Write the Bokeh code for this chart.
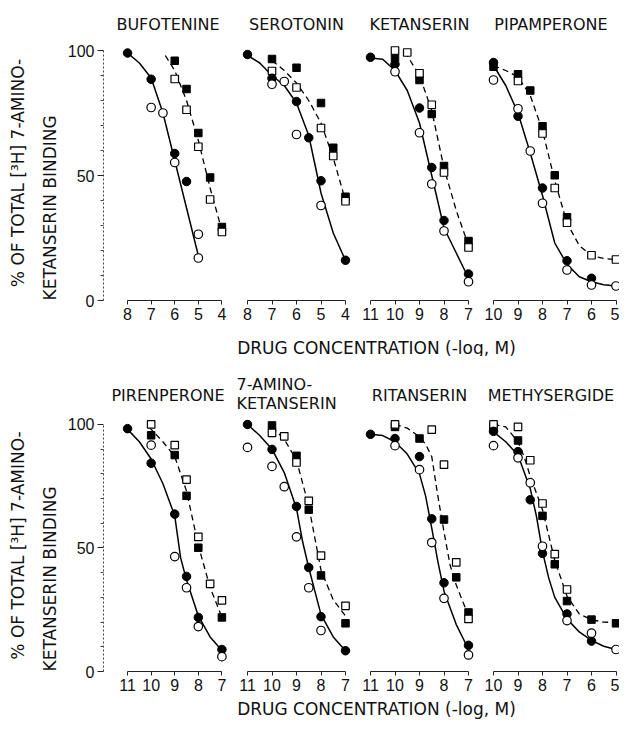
from bokeh.plotting import figure
from bokeh.models import Range1d, FixedTicker, Label, Title
from bokeh.layouts import column, row
from bokeh.embed import file_html
from bokeh.resources import INLINE

# ------------------------------------------------------------------ data
# x = drug concentration (-log M), y = % of total [3H]7-amino-ketanserin binding
# FC filled circles, OC open circles, FS filled squares, OS open squares
# FIT = solid curve (circles), DFIT = dashed curve (squares)

BUF_TICKS = [8, 7, 6, 5, 4]
BUF_FC = [(8, 99), (7, 88.5), (6, 58.8), (5.5, 47.6)]
BUF_OC = [(7, 77.2), (6.5, 75), (6, 55.2), (5, 26.5), (5, 17)]
BUF_FS = [(6, 95.9), (5.5, 84.6), (5, 67), (4.5, 49.2), (4, 29.4)]
BUF_OS = [(6, 88.6), (5.5, 76.3), (5, 61.5), (4.5, 40.4), (4, 27.4)]
BUF_FIT = [(8, 99), (7.5, 95), (7, 89), (6.5, 75), (6, 56), (5.5, 37), (5, 18)]
BUF_DFIT = [(6.4, 98), (6, 92), (5.5, 80), (5, 64), (4.5, 45), (4, 28)]

SER_TICKS = [8, 7, 6, 5, 4]
SER_FC = [(8, 98.4), (7, 88.9), (6, 79.6), (5.5, 65.1), (5, 47.9), (4, 16.1)]
SER_OC = [(7, 86.5), (6.5, 87.6), (6, 66.4), (5, 38)]
SER_FS = [(7, 96.6), (6, 93.1), (5, 79), (4.5, 61.1), (4, 41.5)]
SER_OS = [(7, 91.8), (6, 85.2), (5, 69), (4.5, 57.8), (4, 39.7)]
SER_FIT = [(8, 98), (7.5, 95), (7, 90), (6.5, 86), (6, 79), (5.5, 66), (5, 43), (4.5, 27), (4, 16)]
SER_DFIT = [(7, 96), (6.5, 92), (6, 87), (5.5, 80), (5, 71), (4.5, 57), (4, 40)]

KET_TICKS = [11, 10, 9, 8, 7]
KET_FC = [(11, 97.3), (10, 94.5), (9, 77), (8.5, 53.2), (8, 32), (7, 10.6)]
KET_OC = [(10, 91.5), (9, 67.1), (8.5, 46.6), (8, 27.8), (7, 7.5)]
KET_FS = [(10, 97), (9, 88.2), (8.5, 74.6), (8, 53.8), (7, 23.8)]
KET_OS = [(10, 100), (9.5, 99.2), (9, 90.9), (8.5, 78.3), (8, 51.2), (7, 21.2)]
KET_FIT = [(11, 97), (10.5, 96.5), (10, 92), (9.5, 84), (9, 71), (8.5, 50), (8, 29), (7.5, 19), (7, 9)]
KET_DFIT = [(9.6, 99.5), (9, 90), (8.5, 76), (8, 53), (7.5, 36), (7, 22)]

PIP_TICKS = [10, 9, 8, 7, 6, 5]
PIP_FC = [(10, 95.2), (9, 73.7), (8, 45), (7, 15.9), (6, 8.9)]
PIP_OC = [(10, 88.2), (9, 76.7), (8.5, 59.8), (8, 38.9), (7, 12.2), (6, 6.2), (5, 5.8)]
PIP_FS = [(10, 93.5), (9, 90.5), (8.5, 84), (8, 69.7), (7.5, 50.1), (7, 33.3)]
PIP_OS = [(9, 87.8), (8, 66.8), (7.5, 45), (7, 31.1), (6, 18.1), (5, 16.4)]
PIP_FIT = [(10, 94), (9.5, 86), (9, 75), (8.5, 59), (8, 42), (7.5, 23), (7, 14.5), (6.5, 9.5),
           (6, 7.5), (5.5, 6.3), (5, 5.8)]
PIP_DFIT = [(10, 94), (9.5, 92), (9, 89.5), (8.5, 82), (8, 68), (7.5, 48), (7, 31), (6.5, 22),
            (6, 18), (5.5, 16.8), (5, 16.4)]

PIR_TICKS = [11, 10, 9, 8, 7]
PIR_FC = [(11, 98.3), (10, 84.3), (9, 63.7), (8.5, 38.5), (8, 21.9), (7, 8.9)]
PIR_OC = [(10, 91.6), (9, 46.5), (8.5, 33.9), (8, 18.2), (7, 6)]
PIR_FS = [(10, 95.6), (9, 87.6), (8.5, 71.1), (8, 50.1), (7, 21.9)]
PIR_OS = [(10, 100), (9, 91.6), (8.5, 77.7), (8, 54.5), (7.5, 35.5), (7, 28.8)]
PIR_FIT = [(11, 98), (10.5, 93), (10, 86), (9.5, 76), (9, 63), (8.75, 46), (8.5, 37), (8, 22.5),
           (7.5, 14), (7, 8.5)]
PIR_DFIT = [(10.1, 99), (9.5, 93), (9, 87), (8.5, 73), (8, 51), (7.5, 34), (7, 22)]

AMK_TICKS = [11, 10, 9, 8, 7]
AMK_FC = [(11, 100), (10, 89.9), (9, 66.8), (8.5, 42.1), (8, 22.2), (7, 8.4)]
AMK_OC = [(11, 90.7), (10, 83), (9.5, 74.8), (9, 54.5), (8.5, 33.9), (8, 16.6)]
AMK_FS = [(10, 99.6), (9, 87.3), (8.5, 65.5), (8, 38.9), (7, 19.5)]
AMK_OS = [(10, 96.6), (9.5, 95.2), (9, 84.6), (8.5, 69.1), (8, 46.9), (7, 26.6)]
AMK_FIT = [(11, 100), (10.5, 95.5), (10, 90), (9.5, 80.5), (9, 66), (8.75, 52.5), (8.5, 42), (8, 23),
           (7.5, 14), (7, 8.4)]
AMK_DFIT = [(10, 99), (9.5, 94), (9, 85.5), (8.5, 67), (8, 41), (7.5, 29), (7, 22.5)]

RIT_TICKS = [11, 10, 9, 8, 7]
RIT_FC = [(11, 96), (10, 94.3), (9, 87), (8.5, 61.8), (8, 35.9), (7, 10.6)]
RIT_OC = [(10, 91.4), (9, 81.7), (8.5, 52.2), (8, 29.6), (7, 6.7)]
RIT_FS = [(10, 99), (9, 94.3), (8, 61.5), (7.5, 38.1), (7, 23.9)]
RIT_OS = [(10, 100), (8.5, 97.9), (8, 83.7), (7.5, 44.2), (7, 21.3)]
RIT_FIT = [(11, 96), (10.5, 95.5), (10, 93), (9.5, 88), (9, 80), (8.75, 71), (8.5, 58), (8.25, 44.5),
           (8, 32.5), (7.5, 19), (7, 9)]
RIT_DFIT = [(10, 100), (9.5, 98.5), (9, 95), (8.75, 92), (8.5, 87), (8.25, 71), (8, 56.5), (7.75, 43),
            (7.5, 35), (7, 22.5)]

MET_TICKS = [10, 9, 8, 7, 6, 5]
MET_FC = [(10, 97.2), (9, 89), (8.5, 69.5), (8, 47.8), (7, 23.3), (6, 12.3)]
MET_OC = [(10, 91.4), (9, 86.5), (8.5, 76.4), (8, 50.7), (7, 20.6), (6, 15.5), (5, 8.9)]
MET_FS = [(10, 99), (9, 93.5), (8, 63), (7.5, 43.4), (7, 28.5), (6, 21), (5, 19.5)]
MET_OS = [(10, 100), (9, 99), (8.5, 85.5), (8, 68), (7.5, 47.5), (7, 33.2)]
MET_FIT = [(10, 97), (9.5, 93), (9, 87.5), (8.5, 74), (8.25, 63), (8, 48.5), (7.75, 38), (7.5, 30),
           (7, 21.3), (6.5, 16), (6, 12.6), (5.5, 10.2), (5, 8.9)]
MET_DFIT = [(10, 100), (9.5, 99), (9, 93), (8.75, 87), (8.5, 79), (8, 65.5), (7.5, 45), (7, 30.5),
            (6.5, 23.3), (6, 21), (5.5, 20), (5, 19.8)]

Y_TICKS = [0, 50, 100]
Y_MINOR = [10, 20, 30, 40, 60, 70, 80, 90]
Y_LABEL_1 = "% OF TOTAL [³H] 7-AMINO-"
Y_LABEL_2 = "KETANSERIN BINDING"
X_LABEL = "DRUG CONCENTRATION (-log, M)"

# ------------------------------------------------------------------ styling
S = 24.5            # px per log unit
TXT_FONT = "DejaVu Sans"
NUM_FONT = "Liberation Sans"
INK = "#111111"


def xy(pairs):
    return [a for a, _ in pairs], [b for _, b in pairs]


def side_title(text, align):
    return Title(text=text, align=align, text_font=TXT_FONT, text_font_size="17px",
                 text_font_style="normal", text_color=INK, standoff=10)


def make_panel(title, ticks, fc, oc, fs, os_, fit, dfit, width, frame_h, bl, br, bt, bb,
               pad_left, title_standoff, title_align="center", yaxis=False):
    frame_w = width - bl - br
    x0 = max(ticks) + pad_left / S
    x1 = x0 - frame_w / S
    p = figure(width=width, height=bt + frame_h + bb, x_range=Range1d(x0, x1),
               y_range=Range1d(0, 102),
               toolbar_location=None, output_backend="svg",
               y_axis_location="left" if yaxis else None,
               min_border_left=bl, min_border_right=br, min_border_top=bt, min_border_bottom=bb)
    p.outline_line_color = None
    p.grid.visible = False
    p.background_fill_color = "white"
    p.border_fill_color = "white"

    p.title.text = title
    p.title.align = title_align
    p.title.text_font = TXT_FONT
    p.title.text_font_size = "16px"
    p.title.text_font_style = "normal"
    p.title.text_color = INK
    p.title.standoff = title_standoff

    ax = p.xaxis[0]
    ax.ticker = FixedTicker(ticks=ticks)
    ax.bounds = (min(ticks), max(ticks))
    ax.axis_line_color = "#222222"
    ax.axis_line_width = 1
    ax.major_tick_line_color = "#222222"
    ax.major_tick_out = 4
    ax.major_tick_in = 0
    ax.minor_tick_line_color = None
    ax.major_label_text_font = NUM_FONT
    ax.major_label_text_font_size = "16px"
    ax.major_label_text_color = INK
    ax.major_label_standoff = 3

    if yaxis:
        ya = p.yaxis[0]
        ya.ticker = FixedTicker(ticks=Y_TICKS, minor_ticks=Y_MINOR)
        ya.bounds = (0, 100)
        ya.axis_line_color = "#444444"
        ya.axis_line_dash = "2 2"
        ya.major_tick_line_color = "#222222"
        ya.major_tick_out = 6
        ya.major_tick_in = 0
        ya.minor_tick_line_color = "#444444"
        ya.minor_tick_out = 3
        ya.minor_tick_in = 0
        ya.major_label_text_font = NUM_FONT
        ya.major_label_text_font_size = "16px"
        ya.major_label_text_color = INK
        ya.major_label_standoff = 3
        # two-line y label: inner line starts at the bottom, outer line centred
        p.add_layout(side_title(Y_LABEL_2, "left"), "left")
        p.add_layout(side_title(Y_LABEL_1, "center"), "left")

    lx, ly = xy(fit)
    p.line(lx, ly, line_color="black", line_width=1.5)
    dx, dy = xy(dfit)
    p.line(dx, dy, line_color="black", line_width=1.3, line_dash="6 4")

    sx, sy = xy(fs)
    p.scatter(sx, sy, marker="square", size=7.5, fill_color="black", line_color="black")
    sx, sy = xy(os_)
    p.scatter(sx, sy, marker="square", size=7.5, fill_color="white", line_color="black",
              line_width=1.2)
    cx, cy = xy(fc)
    p.scatter(cx, cy, marker="circle", size=8.5, fill_color="black", line_color="black")
    cx, cy = xy(oc)
    p.scatter(cx, cy, marker="circle", size=8.5, fill_color="white", line_color="black",
              line_width=1.2)
    return p


def make_xlabel(height, ypos):
    p = figure(width=619, height=height, x_range=Range1d(0, 1), y_range=Range1d(0, 1),
               toolbar_location=None, output_backend="svg",
               x_axis_location=None, y_axis_location=None,
               min_border_left=137, min_border_right=4, min_border_top=0, min_border_bottom=0)
    p.outline_line_color = None
    p.grid.visible = False
    p.add_layout(Label(x=0.5, y=ypos, text=X_LABEL, text_align="center",
                       text_baseline="middle", text_font=TXT_FONT, text_font_size="17px",
                       text_color=INK))
    return p


FRAME1, FRAME2 = 256, 252
TOP1, TOP2 = 44, 63
BOT1, BOT2 = 26, 26
LAB1 = 30
LAB2 = 719 - (TOP1 + FRAME1 + BOT1) - LAB1 - (TOP2 + FRAME2 + BOT2)

p1 = make_panel("BUFOTENINE", BUF_TICKS, BUF_FC, BUF_OC, BUF_FS, BUF_OS, BUF_FIT, BUF_DFIT,
                234, FRAME1, 98, 2, TOP1, BOT1, 25, 24, yaxis=True)
p2 = make_panel("SEROTONIN", SER_TICKS, SER_FC, SER_OC, SER_FS, SER_OS, SER_FIT, SER_DFIT,
                123, FRAME1, 2, 1, TOP1, BOT1, 11, 24)
p3 = make_panel("KETANSERIN", KET_TICKS, KET_FC, KET_OC, KET_FS, KET_OS, KET_FIT, KET_DFIT,
                123, FRAME1, 2, 1, TOP1, BOT1, 11, 24)
p4 = make_panel("PIPAMPERONE", PIP_TICKS, PIP_FC, PIP_OC, PIP_FS, PIP_OS, PIP_FIT, PIP_DFIT,
                139, FRAME1, 2, 0, TOP1, BOT1, 11, 24)

p5 = make_panel("PIRENPERONE", PIR_TICKS, PIR_FC, PIR_OC, PIR_FS, PIR_OS, PIR_FIT, PIR_DFIT,
                234, FRAME2, 98, 2, TOP2, BOT2, 25, 30, yaxis=True)
p6 = make_panel("7-AMINO-\nKETANSERIN", AMK_TICKS, AMK_FC, AMK_OC, AMK_FS, AMK_OS, AMK_FIT,
                AMK_DFIT, 123, FRAME2, 2, 1, TOP2, BOT2, 11, 13, title_align="left")
p7 = make_panel("RITANSERIN", RIT_TICKS, RIT_FC, RIT_OC, RIT_FS, RIT_OS, RIT_FIT, RIT_DFIT,
                123, FRAME2, 2, 1, TOP2, BOT2, 11, 30)
p8 = make_panel("METHYSERGIDE", MET_TICKS, MET_FC, MET_OC, MET_FS, MET_OS, MET_FIT, MET_DFIT,
                139, FRAME2, 2, 0, TOP2, BOT2, 11, 30)

lab1 = make_xlabel(LAB1, 0.3)
lab2 = make_xlabel(LAB2, 0.5)

layout = column(row(p1, p2, p3, p4), lab1, row(p5, p6, p7, p8), lab2)

open("out.html", "w").write(file_html(layout, INLINE))
